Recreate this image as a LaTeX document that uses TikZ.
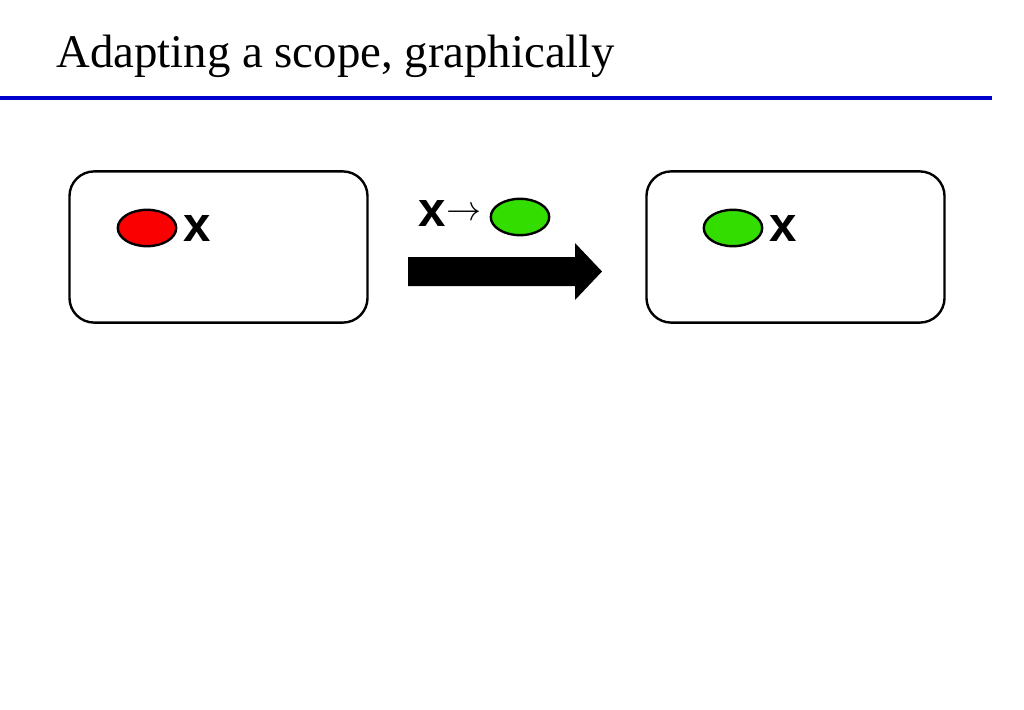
\documentclass[tikz,border=0pt]{standalone}
\usepackage{fontspec}
\setmainfont{Liberation Serif}
\newfontfamily\varfont{Liberation Sans}
\usetikzlibrary{shapes.geometric}
\definecolor{ruleblue}{RGB}{0,0,204}
\definecolor{oldred}{RGB}{250,0,0}
\definecolor{newgreen}{RGB}{51,221,0}

\begin{document}
\begin{tikzpicture}[x=0.025cm, y=-0.025cm, line width=1.7pt,
    scopebox/.style={draw, rounded corners=0.62cm, minimum width=7.45cm, minimum height=3.78cm},
    binding/.style={draw, ellipse, inner sep=0pt, minimum width=1.46cm, minimum height=0.91cm},
    varname/.style={inner sep=0pt, font=\varfont\bfseries\fontsize{35}{40}\selectfont}]
    \useasboundingbox (0,0) rectangle (1024,709);
    % heading
    \node[anchor=base west, inner sep=0pt, font=\fontsize{33.3}{40}\selectfont] (title) at (55,68) {Adapting a scope, graphically};
    \draw[ruleblue, line width=2.8pt] (0,98) -- (992,98);
    % scope before
    \draw (218.5,247) node[scopebox] (before) {};
    \draw (147,228)   node[binding, fill=oldred] (oldx) {};
    \draw (197,228)   node[varname] (oldname) {x};
    % the adaptation
    \draw (432,213)   node[varname] (mapname) {x};
    \draw (464,214)   node[inner sep=0pt, font=\fontsize{26}{30}\selectfont] (maps) {$\rightarrow$};
    \draw (520,217)   node[binding, fill=newgreen] (mapx) {};
    \fill (408,257) -- (575,257) -- (575,243) -- (602,271.5) -- (575,300) -- (575,286) -- (408,286) -- cycle;
    % scope after
    \draw (795.5,247) node[scopebox] (after) {};
    \draw (733,228)   node[binding, fill=newgreen] (newx) {};
    \draw (783,228)   node[varname] (newname) {x};
\end{tikzpicture}
\end{document}
